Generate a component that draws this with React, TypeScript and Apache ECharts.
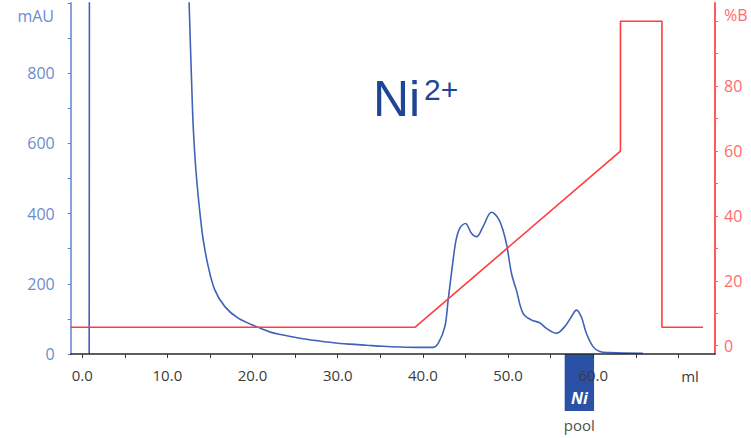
import React, { useEffect, useRef } from "react";
import * as echarts from "echarts";

// UV absorbance (mAU) vs volume (ml)
const injectionVolume = [0.82, 0.86, 12.2];
const injectionUV = [0, 1500, 1500];

const uvVolume = [
  12.2, 12.45, 12.56, 12.84, 13.03, 13.3, 13.62, 13.9, 14.21, 14.8, 15.58, 16.75,
  18.32, 20.47, 22.0, 23.6, 25.56, 27.52, 29.47, 31.43, 33.39, 35.34, 37.3, 39.26,
  41.2, 41.8, 42.58, 42.97, 43.5, 43.9, 44.33, 45.0, 45.7, 46.29, 47.07, 48.05,
  48.83, 49.4, 49.88, 50.4, 50.98, 51.76, 52.74, 53.72, 54.5, 55.68, 56.66, 57.44,
  58.03, 58.6, 59.2, 59.98, 60.76, 61.9, 65.84,
];
const uvValue = [
  1500, 1120, 995, 781, 650, 540, 450, 385, 325, 249, 182, 135,
  102, 78, 63, 54, 45, 38, 32, 28, 25, 22, 20, 19,
  19, 30, 78, 154, 258, 325, 358, 372, 344, 334, 363, 404,
  387, 353, 306, 230, 182, 116, 97, 89, 73, 59, 78, 106,
  125, 106, 59, 21, 7, 4, 2,
];

// Gradient %B vs volume (ml)
const gradVolume = [-1.35, 39.1, 63.2, 63.2, 68.07, 68.07, 72.9];
const gradValue = [5.7, 5.7, 60, 100, 100, 5.7, 5.7];

// Axis ticks / labels
const xTickValues = [0, 5, 10, 15, 20, 25, 30, 35, 40, 45, 50, 55, 60, 65, 70];
const xLabelValues = [0, 10, 20, 30, 40, 50, 60];
const uvTickValues = [0, 100, 200, 300, 400, 500, 600, 700, 800, 900, 1000];
const uvLabelValues = [0, 200, 400, 600, 800];
const bTickValues = [0, 10, 20, 30, 40, 50, 60, 70, 80, 90, 100];
const bLabelValues = [0, 20, 40, 60, 80];

// Pooled fractions region
const poolStart = 56.65;
const poolEnd = 60.1;
const poolName = "Ni";
const poolLabel = "pool";

const BLUE = "#4062b8";
const RED = "#ff3d3d";
const GRAY = "#3c3c3c";
const FONT = "'Open Sans', sans-serif";

export default function App() {
  const ref = useRef<HTMLDivElement>(null);

  useEffect(() => {
    if (!ref.current) return;
    const chart = echarts.init(ref.current, undefined, { renderer: "svg" });

    const zip = (xs: number[], ys: number[]) => xs.map((x, i) => [x, ys[i]]);

    chart.setOption({
      animation: false,
      backgroundColor: "#ffffff",
      grid: { left: 70.7, right: 36, top: 3, bottom: 84, containLabel: false },
      xAxis: {
        type: "value",
        min: -1.35,
        max: 74.3,
        z: 10,
        axisLine: { show: true, onZero: false, lineStyle: { color: "#2a2a2a", width: 1.5 } },
        axisTick: { show: true, customValues: xTickValues, length: 4, lineStyle: { color: "#333", width: 1 } },
        axisLabel: {
          customValues: xLabelValues,
          formatter: (v: number) => v.toFixed(1),
          color: GRAY,
          fontSize: 15,
          fontFamily: FONT,
          margin: 13,
        },
        splitLine: { show: false },
      },
      yAxis: [
        {
          type: "value",
          min: 0,
          max: 1000,
          position: "left",
          axisLine: { show: true, onZero: false, lineStyle: { color: "#88a2dc", width: 2 } },
          axisTick: { show: true, customValues: uvTickValues, length: 3, lineStyle: { color: "#5f7fca", width: 1 } },
          axisLabel: {
            customValues: uvLabelValues,
            color: "#6d8bd0",
            fontSize: 16,
            fontFamily: FONT,
            margin: 16,
          },
          splitLine: { show: false },
        },
        {
          type: "value",
          min: -2.56,
          max: 105.64,
          position: "right",
          axisLine: { show: true, onZero: false, lineStyle: { color: "#ff5a5a", width: 2 } },
          axisTick: { show: true, customValues: bTickValues, length: 3, lineStyle: { color: "#ff5a5a", width: 1 } },
          axisLabel: {
            customValues: bLabelValues,
            color: "#ff6b6b",
            fontSize: 16,
            fontFamily: FONT,
            margin: 9,
          },
          splitLine: { show: false },
        },
      ],
      graphic: [
        { type: "text", x: 54, y: 16, style: { text: "mAU", fill: "#6d8bd0", font: `16px ${FONT}`, textAlign: "right", textVerticalAlign: "middle" } },
        { type: "text", x: 724, y: 15, style: { text: "%B", fill: "#ff6b6b", font: `16px ${FONT}`, textAlign: "left", textVerticalAlign: "middle" } },
        { type: "text", x: 690, y: 376, style: { text: "ml", fill: GRAY, font: `15px ${FONT}`, textAlign: "center", textVerticalAlign: "middle" } },
        { type: "text", x: 373, y: 99, style: { text: "Ni", fill: "#1f4597", font: `50px 'Liberation Sans', Arial, sans-serif`, textAlign: "left", textVerticalAlign: "middle" } },
        { type: "text", x: 424, y: 89, style: { text: "2+", fill: "#1f4597", font: `30px 'Liberation Sans', Arial, sans-serif`, textAlign: "left", textVerticalAlign: "middle" } },
      ],
      series: [
        {
          type: "custom",
          name: "pool",
          z: 1,
          clip: false,
          data: [[poolStart, poolEnd]],
          renderItem: (params: any, api: any) => {
            const p0 = api.coord([api.value(0), 0]);
            const p1 = api.coord([api.value(1), 0]);
            const axisY = p0[1];
            const cx = (p0[0] + p1[0]) / 2;
            return {
              type: "group",
              children: [
                {
                  type: "rect",
                  shape: { x: p0[0], y: axisY, width: p1[0] - p0[0], height: 57 },
                  style: { fill: "#2b51a6" },
                },
                {
                  type: "text",
                  x: cx,
                  y: axisY + 44,
                  style: {
                    text: poolName,
                    fill: "#ffffff",
                    font: `italic bold 16px ${FONT}`,
                    textAlign: "center",
                    textVerticalAlign: "middle",
                  },
                },
                {
                  type: "text",
                  x: cx,
                  y: axisY + 71,
                  style: {
                    text: poolLabel,
                    fill: "#505050",
                    font: `15px ${FONT}`,
                    textAlign: "center",
                    textVerticalAlign: "middle",
                  },
                },
              ],
            };
          },
        },
        {
          type: "line",
          name: "injection",
          yAxisIndex: 0,
          data: zip(injectionVolume, injectionUV),
          showSymbol: false,
          lineStyle: { color: BLUE, width: 1.6 },
          clip: true,
        },
        {
          type: "line",
          name: "UV",
          yAxisIndex: 0,
          data: zip(uvVolume, uvValue),
          showSymbol: false,
          smooth: 0.35,
          lineStyle: { color: BLUE, width: 1.6 },
          clip: true,
        },
        {
          type: "line",
          name: "%B",
          yAxisIndex: 1,
          data: zip(gradVolume, gradValue),
          showSymbol: false,
          lineStyle: { color: RED, width: 1.6 },
          clip: true,
        },
      ],
    });

    return () => chart.dispose();
  }, []);

  return <div ref={ref} style={{ width: 751, height: 438, position: "absolute", left: 0, top: 0 }} />;
}
